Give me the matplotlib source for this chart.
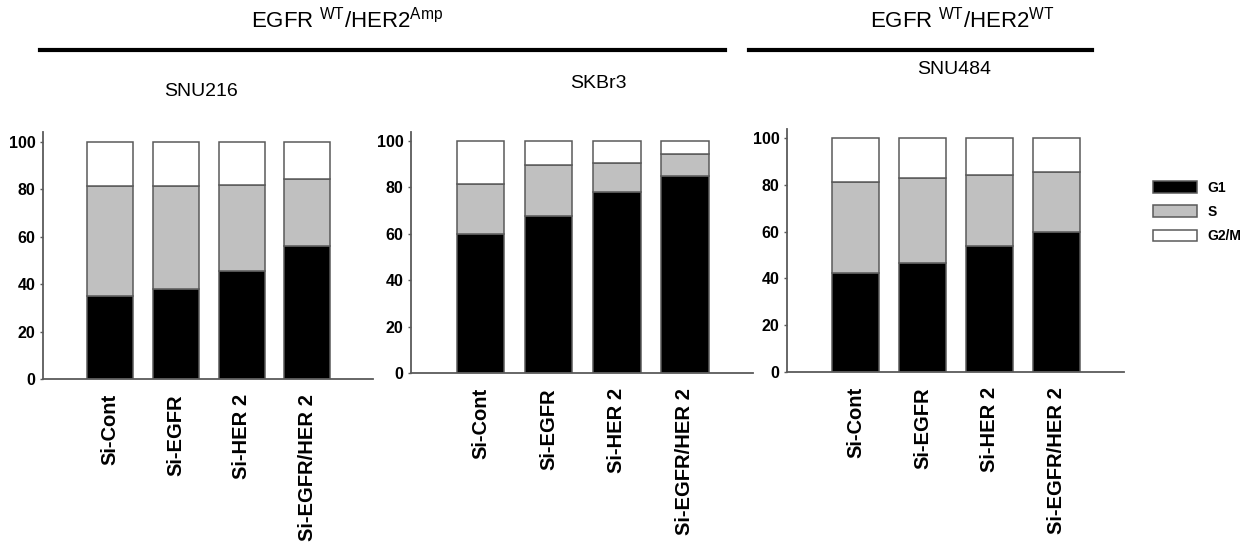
import matplotlib.pyplot as plt
import matplotlib as mpl
from matplotlib.patches import Patch
from matplotlib.lines import Line2D

# knockdown conditions on the x axis
conditions = ["Si-Cont", "Si-EGFR", "Si-HER 2", "Si-EGFR/HER 2"]
phases = ["G1", "S", "G2/M"]

# cell cycle fractions (%) per cell line
snu216_g1 = [35, 38, 45.5, 56]
snu216_s = [46.5, 43.5, 36.5, 28.5]
snu216_g2m = [18.5, 18.5, 18, 15.5]

skbr3_g1 = [60, 67.5, 78, 85]
skbr3_s = [21.5, 22, 12.5, 9.5]
skbr3_g2m = [18.5, 10.5, 9.5, 5.5]

snu484_g1 = [42.5, 46.5, 54, 60]
snu484_s = [38.5, 36.5, 30, 25.5]
snu484_g2m = [19, 17, 16, 14.5]

phase_colors = ["black", "#c0c0c0", "white"]
edge = "#5a5a5a"

mpl.rcParams['font.family'] = ['Liberation Sans', 'DejaVu Sans']
mpl.rcParams['mathtext.default'] = 'regular'

W, H = 1259, 555
fig = plt.figure(figsize=(W / 100, H / 100), dpi=100)


def panel(rect, title, title_xy, g1, s, g2m):
    ax = fig.add_axes(rect)
    x = list(range(len(conditions)))
    bottom = [0] * len(x)
    for vals, col in zip([g1, s, g2m], phase_colors):
        ax.bar(x, vals, width=0.7, bottom=bottom, color=col,
               edgecolor=edge, linewidth=1.1, zorder=2)
        bottom = [b + v for b, v in zip(bottom, vals)]
    ax.set_xlim(-1.02, 4.0)
    ax.set_ylim(0, 104)
    ax.set_yticks([0, 20, 40, 60, 80, 100])
    ax.set_xticks(x)
    ax.set_xticklabels(conditions, rotation=90, fontweight='bold',
                       fontsize=14.5)
    ax.tick_params(axis='x', length=0, pad=11)
    ax.tick_params(axis='y', length=2.5, width=1, color=edge, pad=3,
                   labelsize=11.5)
    for lab in ax.get_yticklabels():
        lab.set_fontweight('bold')
    for side in ['top', 'right']:
        ax.spines[side].set_visible(False)
    for side in ['left', 'bottom']:
        ax.spines[side].set_color(edge)
        ax.spines[side].set_linewidth(1.3)
    fig.text(title_xy[0] / W, 1 - title_xy[1] / H, title, fontsize=14,
             ha='center', va='center')
    return ax


panel([43 / W, 1 - 379 / H, 330 / W, 246.5 / H], "SNU216", (201, 91),
      snu216_g1, snu216_s, snu216_g2m)
panel([411 / W, 1 - 373 / H, 342 / W, 241.3 / H], "SKBr3", (598, 83),
      skbr3_g1, skbr3_s, skbr3_g2m)
panel([787 / W, 1 - 372 / H, 337 / W, 243.4 / H], "SNU484", (954, 70),
      snu484_g1, snu484_s, snu484_g2m)

# group headers and bars
fig.text(347 / W, 1 - 20 / H, "EGFR $^{WT}$/HER2$^{Amp}$", fontsize=16,
         ha='center', va='center')
fig.text(962 / W, 1 - 20 / H, "EGFR $^{WT}$/HER2$^{WT}$", fontsize=16,
         ha='center', va='center')
fig.add_artist(Line2D([40 / W, 725 / W], [1 - 50 / H, 1 - 50 / H],
                      color='black', linewidth=3))
fig.add_artist(Line2D([749 / W, 1092 / W], [1 - 50 / H, 1 - 50 / H],
                      color='black', linewidth=3))

handles = [Patch(facecolor=c, edgecolor=edge, linewidth=1.1)
           for c in phase_colors]
leg = fig.legend(handles, phases, loc='center left',
                 bbox_to_anchor=(1153 / W, 1 - 212 / H), frameon=False,
                 borderpad=0, borderaxespad=0, handlelength=3.2,
                 handleheight=0.9, handletextpad=0.7, labelspacing=0.75,
                 prop={'size': 10, 'weight': 'bold'})

fig.savefig("out.png", dpi=100)
